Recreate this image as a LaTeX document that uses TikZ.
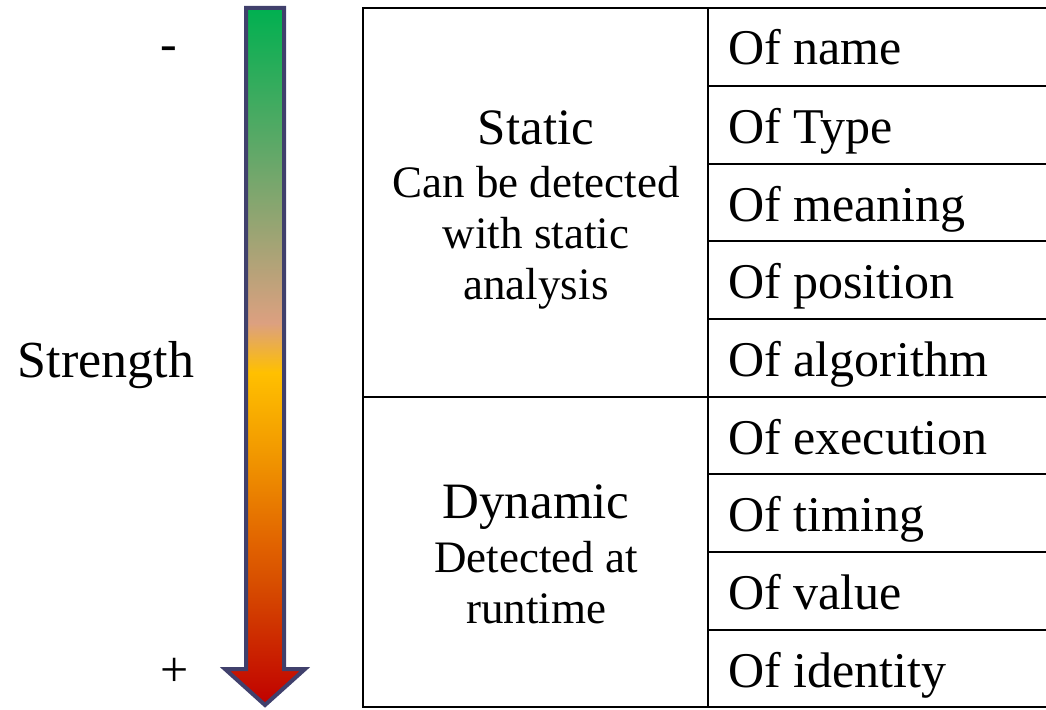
\documentclass[tikz,border=0pt]{standalone}
\usepackage{fontspec}
\setmainfont{Liberation Serif}
\definecolor{cRed}{HTML}{C00000}
\definecolor{cOrR}{HTML}{D85000}
\definecolor{cOrD}{HTML}{E06000}
\definecolor{cOr}{HTML}{F29A00}
\definecolor{cYel}{HTML}{FFC000}
\definecolor{cPink}{HTML}{DCA080}
\definecolor{cGrL}{HTML}{60A868}
\definecolor{cGr}{HTML}{00B050}
\definecolor{arrowedge}{RGB}{64,64,108}
\pgfdeclareverticalshading{strengthshade}{100bp}{color(0bp)=(cRed); color(25bp)=(cRed); color(34bp)=(cOrR); color(36.2bp)=(cOrD); color(43.3bp)=(cOr); color(48.85bp)=(cYel); color(52.4bp)=(cPink); color(64.8bp)=(cGrL); color(75bp)=(cGr); color(100bp)=(cGr)}
\begin{document}
\begin{tikzpicture}[x=1pt,y=-1pt,
  tline/.style={line width=2.5pt,black},
  cell/.style={anchor=base west,inner sep=0pt,font=\fontsize{50}{60}\selectfont},
  head/.style={anchor=base,inner sep=0pt,font=\fontsize{51}{60}\selectfont},
  sub/.style={anchor=base,inner sep=0pt,font=\fontsize{45}{54}\selectfont},
  side/.style={anchor=base,inner sep=0pt,font=\fontsize{50}{60}\selectfont}]
\useasboundingbox (0,0) rectangle (1046,709);
% arrow
\coordinate (aTL) at (246,8);
\coordinate (aTR) at (284,8);
\coordinate (aSR) at (284,669);
\coordinate (aHR) at (305,669);
\coordinate (aTip) at (265,705);
\coordinate (aHL) at (225,669);
\coordinate (aSL) at (246,669);
\shadedraw[shading=strengthshade,draw=arrowedge,line width=4pt,line join=miter]
  (aTL) -- (aTR) -- (aSR) -- (aHR) -- (aTip) -- (aHL) -- (aSL) -- cycle;
\node[side] (minus) at (169,60) {-};
\node[side] (plus) at (175,686) {+};
\node[anchor=base,inner sep=0pt,font=\fontsize{52}{60}\selectfont] (strength) at (106,377) {Strength};
% table
\coordinate (tTL) at (363,8);
\coordinate (tBL) at (363,707);
\coordinate (tTR) at (1050,8);
\coordinate (tBR) at (1050,707);
\coordinate (dT) at (708,8);
\coordinate (dB) at (708,707);
\draw[tline] (tTR) -- (tTL) -- (tBL) -- (tBR);
\draw[tline] (dT) -- (dB);
\draw[tline] (363,397) -- (1050,397);
\foreach \y in {86,164,241,319,474,552,630}{
  \draw[tline] (708,\y) -- (1050,\y);
}
\node[cell] (r1) at (728,65) {Of name};
\node[cell] (r2) at (728,143) {Of Type};
\node[cell] (r3) at (728,221) {Of meaning};
\node[cell] (r4) at (728,298) {Of position};
\node[cell] (r5) at (728,376) {Of algorithm};
\node[cell] (r6) at (728,454) {Of execution};
\node[cell] (r7) at (728,531) {Of timing};
\node[cell] (r8) at (728,609) {Of value};
\node[cell] (r9) at (728,687) {Of identity};
\node[head] (st1) at (536,144) {Static};
\node[sub] (st2) at (536,197) {Can be detected};
\node[sub] (st3) at (536,248) {with static};
\node[sub] (st4) at (536,299) {analysis};
\node[head] (dy1) at (536,518) {Dynamic};
\node[sub] (dy2) at (536,572) {Detected at};
\node[sub] (dy3) at (536,623) {runtime};
\end{tikzpicture}
\end{document}
